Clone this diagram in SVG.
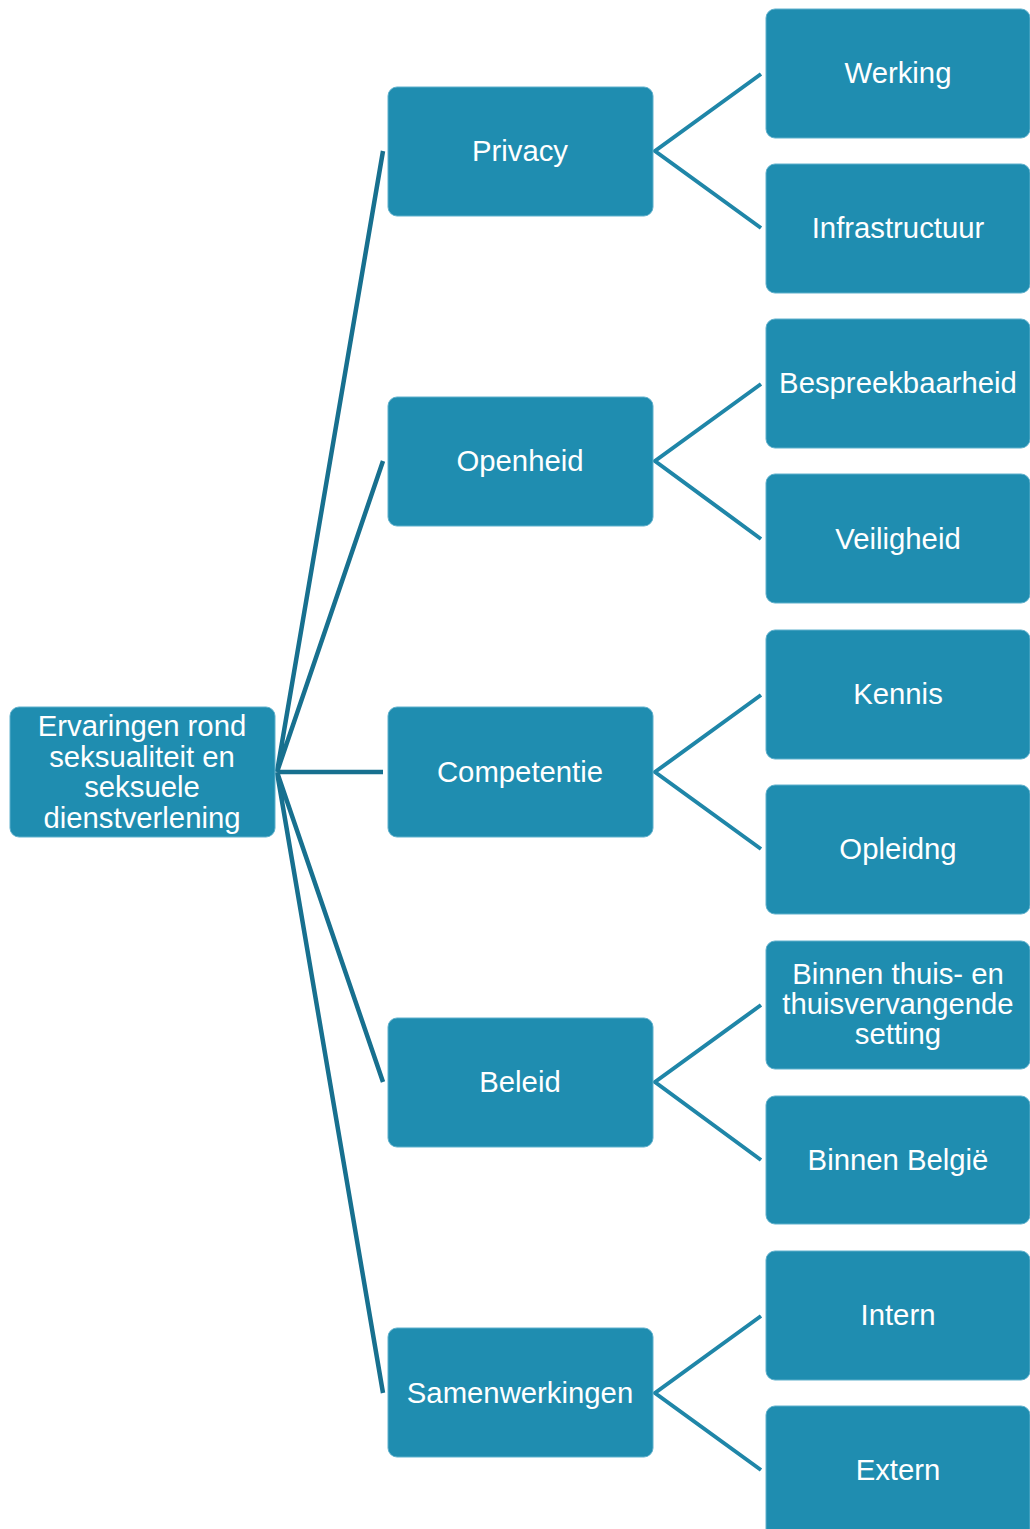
<svg xmlns="http://www.w3.org/2000/svg" width="1030" height="1529" viewBox="0 0 1030 1529">
<style>
.n{fill:#1f8db0;stroke:#5fb0cc;stroke-width:1}
.t{font-family:"Liberation Sans",Arial,sans-serif;font-size:29.3px;fill:#ffffff;text-anchor:middle}
.c1{stroke:#17708f;stroke-width:4.5;fill:none}
.c2{stroke:#1f86a8;stroke-width:4;fill:none}
</style>
<rect width="1030" height="1529" fill="#ffffff"/>
<g id="connectors">
<path class="c1" d="M277,772 L383,151 M277,772 L383,461 M277,772 L383,772 M277,772 L383,1082 M277,772 L383,1393"/>
<path class="c2" d="M761,74 L655,151 L761,228 M761,384 L655,461 L761,539 M761,695 L655,772 L761,849 M761,1005 L655,1082 L761,1160 M761,1316 L655,1393 L761,1470"/>
</g>
<g id="root"><rect class="n" x="10" y="707" width="265" height="130" rx="9"/>
<text class="t"><tspan x="142" y="736">Ervaringen rond</tspan><tspan x="142" y="766.5">seksualiteit en</tspan><tspan x="142" y="797">seksuele</tspan><tspan x="142" y="827.5">dienstverlening</tspan></text></g>
<g id="privacy"><rect class="n" x="388" y="87" width="265" height="129" rx="9"/><text class="t" x="520" y="161">Privacy</text></g>
<g id="openheid"><rect class="n" x="388" y="397" width="265" height="129" rx="9"/><text class="t" x="520" y="471">Openheid</text></g>
<g id="competentie"><rect class="n" x="388" y="707" width="265" height="130" rx="9"/><text class="t" x="520" y="782">Competentie</text></g>
<g id="beleid"><rect class="n" x="388" y="1018" width="265" height="129" rx="9"/><text class="t" x="520" y="1092">Beleid</text></g>
<g id="samenwerkingen"><rect class="n" x="388" y="1328" width="265" height="129" rx="9"/><text class="t" x="520" y="1403">Samenwerkingen</text></g>
<g id="werking"><rect class="n" x="766" y="9" width="264" height="129" rx="9"/><text class="t" x="898" y="83">Werking</text></g>
<g id="infrastructuur"><rect class="n" x="766" y="164" width="264" height="129" rx="9"/><text class="t" x="898" y="238">Infrastructuur</text></g>
<g id="bespreekbaarheid"><rect class="n" x="766" y="319" width="264" height="129" rx="9"/><text class="t" x="898" y="393">Bespreekbaarheid</text></g>
<g id="veiligheid"><rect class="n" x="766" y="474" width="264" height="129" rx="9"/><text class="t" x="898" y="549">Veiligheid</text></g>
<g id="kennis"><rect class="n" x="766" y="630" width="264" height="129" rx="9"/><text class="t" x="898" y="704">Kennis</text></g>
<g id="opleidng"><rect class="n" x="766" y="785" width="264" height="129" rx="9"/><text class="t" x="898" y="859">Opleidng</text></g>
<g id="binnen-thuis"><rect class="n" x="766" y="941" width="264" height="128" rx="9"/>
<text class="t"><tspan x="898" y="983.5">Binnen thuis- en</tspan><tspan x="898" y="1013.5">thuisvervangende</tspan><tspan x="898" y="1043.5">setting</tspan></text></g>
<g id="binnen-belgie"><rect class="n" x="766" y="1096" width="264" height="128" rx="9"/><text class="t" x="898" y="1170">Binnen België</text></g>
<g id="intern"><rect class="n" x="766" y="1251" width="264" height="129" rx="9"/><text class="t" x="898" y="1325">Intern</text></g>
<g id="extern"><rect class="n" x="766" y="1406" width="264" height="135" rx="9"/><text class="t" x="898" y="1480">Extern</text></g>
</svg>
